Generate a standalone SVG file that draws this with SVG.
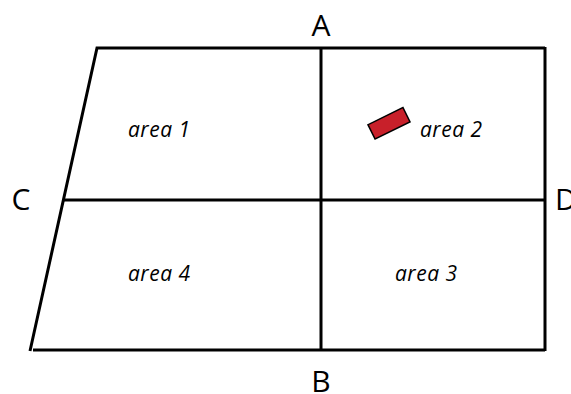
<svg xmlns="http://www.w3.org/2000/svg" width="571" height="394" viewBox="0 0 571 394">
<style>
.ln{stroke:#000;stroke-width:3;fill:none;stroke-linecap:butt}
.lbl{font-family:"Open Sans","Liberation Sans",sans-serif;font-size:30px;fill:#000;text-anchor:middle}
.area{font-family:"Open Sans","Liberation Sans",sans-serif;font-size:21px;font-style:italic;letter-spacing:0.5px;fill:#000}
</style>
<rect width="571" height="394" fill="#fff"/>
<g id="connectors">
<polyline class="ln" points="545,48 97,48 30,351"/>
<line class="ln" x1="33" y1="350" x2="545" y2="350"/>
<line class="ln" x1="545" y1="47" x2="545" y2="351"/>
<line class="ln" x1="321" y1="48" x2="321" y2="350"/>
<line class="ln" x1="63" y1="200" x2="545" y2="200"/>
</g>
<g id="marker-obj">
<rect x="-19.5" y="-8" width="39" height="16" fill="#c8202a" stroke="#000" stroke-width="1.5" transform="translate(389,123.3) rotate(-26.3)"/>
</g>
<g id="labels">
<text class="lbl" x="321" y="36">A</text>
<text class="lbl" x="321" y="392">B</text>
<text class="lbl" x="21" y="210">C</text>
<text class="lbl" x="566" y="210">D</text>
</g>
<g id="area1"><text class="area" x="128" y="137">area 1</text></g>
<g id="area2"><text class="area" x="420" y="137">area 2</text></g>
<g id="area3"><text class="area" x="395" y="281">area 3</text></g>
<g id="area4"><text class="area" x="128" y="281">area 4</text></g>
</svg>
